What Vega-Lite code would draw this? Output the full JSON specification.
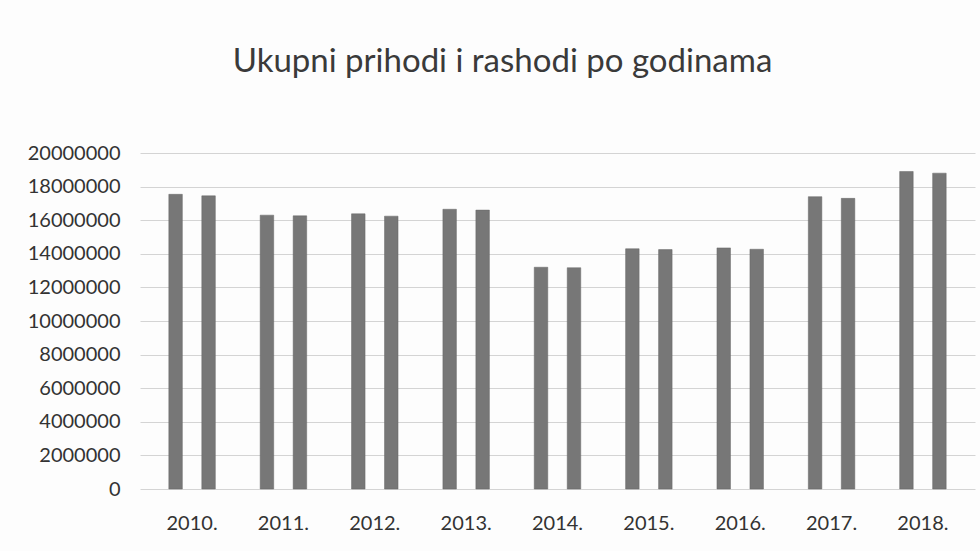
{
  "$schema": "https://vega.github.io/schema/vega-lite/v6.json",
  "autosize": {"type": "none"},
  "width": 835,
  "height": 336,
  "padding": {"left": 140, "top": 153, "right": 5, "bottom": 62},
  "background": "#fdfdfd",
  "title": {
    "text": "Ukupni prihodi i rashodi po godinama",
    "font": "Lato",
    "fontSize": 33,
    "fontWeight": "normal",
    "color": "#3a3a3a",
    "anchor": "middle",
    "dx": -55,
    "offset": 64
  },
  "data": {
    "values": [
      {"godina": "2010.", "vrsta": "Prihodi", "iznos": 17540000},
      {"godina": "2010.", "vrsta": "Rashodi", "iznos": 17450000},
      {"godina": "2011.", "vrsta": "Prihodi", "iznos": 16300000},
      {"godina": "2011.", "vrsta": "Rashodi", "iznos": 16260000},
      {"godina": "2012.", "vrsta": "Prihodi", "iznos": 16380000},
      {"godina": "2012.", "vrsta": "Rashodi", "iznos": 16240000},
      {"godina": "2013.", "vrsta": "Prihodi", "iznos": 16650000},
      {"godina": "2013.", "vrsta": "Rashodi", "iznos": 16600000},
      {"godina": "2014.", "vrsta": "Prihodi", "iznos": 13200000},
      {"godina": "2014.", "vrsta": "Rashodi", "iznos": 13170000},
      {"godina": "2015.", "vrsta": "Prihodi", "iznos": 14300000},
      {"godina": "2015.", "vrsta": "Rashodi", "iznos": 14250000},
      {"godina": "2016.", "vrsta": "Prihodi", "iznos": 14350000},
      {"godina": "2016.", "vrsta": "Rashodi", "iznos": 14270000},
      {"godina": "2017.", "vrsta": "Prihodi", "iznos": 17400000},
      {"godina": "2017.", "vrsta": "Rashodi", "iznos": 17300000},
      {"godina": "2018.", "vrsta": "Prihodi", "iznos": 18900000},
      {"godina": "2018.", "vrsta": "Rashodi", "iznos": 18800000}
    ]
  },
  "mark": {"type": "bar", "color": "#777777", "stroke": "#666666", "strokeWidth": 0.5},
  "encoding": {
    "x": {
      "field": "godina",
      "type": "nominal",
      "sort": null,
      "scale": {"paddingInner": 0, "paddingOuter": 0.07},
      "axis": {
        "title": null,
        "labelAngle": 0,
        "labelFont": "Lato",
        "labelFontSize": 20,
        "labelColor": "#333333",
        "labelPadding": 24,
        "ticks": false,
        "domain": false
      }
    },
    "xOffset": {
      "field": "vrsta",
      "type": "nominal",
      "scale": {"paddingInner": 0.59, "paddingOuter": 0.68}
    },
    "y": {
      "field": "iznos",
      "type": "quantitative",
      "scale": {"domain": [0, 20000000], "nice": false},
      "axis": {
        "title": null,
        "values": [0, 2000000, 4000000, 6000000, 8000000, 10000000, 12000000, 14000000, 16000000, 18000000, 20000000],
        "format": "d",
        "labelFont": "Lato",
        "labelFontSize": 20,
        "labelColor": "#333333",
        "labelPadding": 20,
        "ticks": false,
        "domain": false,
        "grid": true,
        "gridColor": "#d4d4d4",
        "gridWidth": 1
      }
    }
  },
  "config": {"view": {"stroke": null}}
}
